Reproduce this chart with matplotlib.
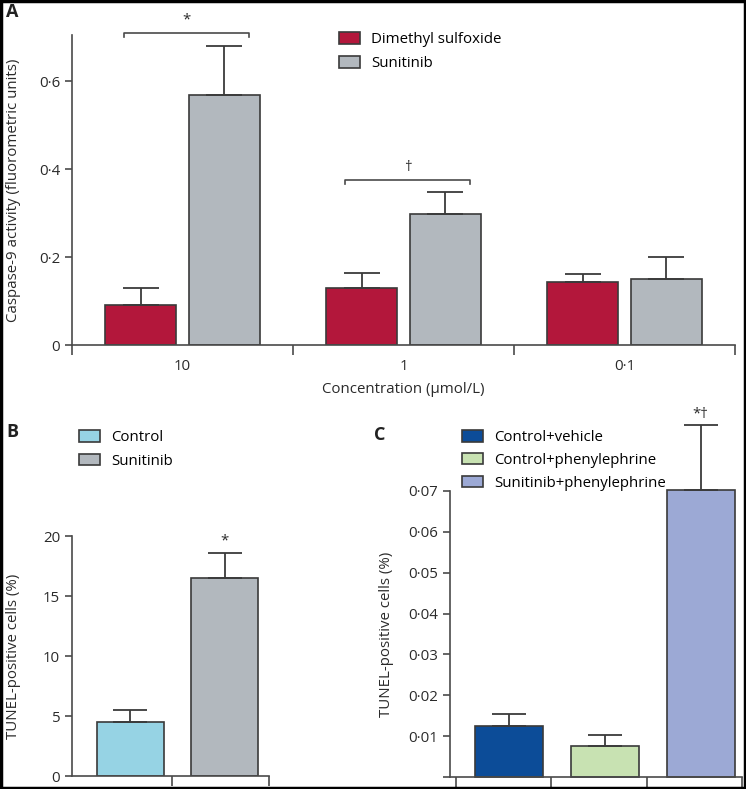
import numpy as np
import matplotlib
matplotlib.use("Agg")
import matplotlib.pyplot as plt
from matplotlib.patches import Patch, Rectangle

plt.rcParams["font.family"] = ["Open Sans", "DejaVu Sans"]
plt.rcParams["font.size"] = 10

# Panel A data
conc_labels = ["10", "1", "0·1"]
dmso_vals = [0.092, 0.130, 0.144]
dmso_err = [0.038, 0.034, 0.017]
sun_vals = [0.568, 0.297, 0.149]
sun_err = [0.113, 0.051, 0.051]

# Panel B data
b_labels = ["Control", "Sunitinib"]
b_vals = [4.53, 16.47]
b_err = [1.0, 2.1]

# Panel C data
c_labels = ["Control+vehicle", "Control+phenylephrine", "Sunitinib+phenylephrine"]
c_vals = [0.0124, 0.0077, 0.0702]
c_err = [0.0029, 0.0025, 0.0159]

red = "#b3173b"
grey = "#b2b8be"
light_blue = "#96d3e4"
blue = "#0c4c98"
green = "#c8e2b2"
purple = "#9ca9d5"
edge = "#3a3a3a"
spine_c = "#4a4a4a"
txt_c = "#2a2a2a"
fs = 10.8

W, H = 746, 789
fig = plt.figure(figsize=(W / 100, H / 100), dpi=100)


def px_axes(left, top, right, bottom):
    return fig.add_axes([left / W, 1 - bottom / H, (right - left) / W, (bottom - top) / H])


def style(ax):
    for s in ["top", "right"]:
        ax.spines[s].set_visible(False)
    for s in ["left", "bottom"]:
        ax.spines[s].set_color(spine_c)
        ax.spines[s].set_linewidth(1.2)
    ax.tick_params(axis="y", direction="out", length=5, width=1.2, color=spine_c, labelsize=fs, labelcolor=txt_c)
    ax.tick_params(axis="x", which="major", length=0, pad=10, labelsize=fs, labelcolor=txt_c)
    ax.tick_params(axis="x", which="minor", direction="out", length=7, width=1.2, color=spine_c)


def unclip(container):
    for p in container.patches:
        p.set_clip_on(False)
    if container.errorbar is not None:
        for a in container.errorbar.get_children():
            a.set_clip_on(False)


def legend(ax, handles, x, y, spacing):
    ax.legend(handles=handles, loc="upper left", bbox_to_anchor=(x / W, 1 - y / H),
              bbox_transform=fig.transFigure, frameon=False, fontsize=fs,
              handlelength=1.4, handleheight=0.8, handletextpad=0.75,
              labelspacing=spacing, borderaxespad=0, borderpad=0)


ekw = dict(ecolor=edge, elinewidth=1.3, capthick=1.3)

# ---- Panel A ----
axA = px_axes(72, 35, 735, 345)
x = np.arange(len(conc_labels))
off, bw = 0.19, 0.317
b1 = axA.bar(x - off, dmso_vals, bw, color=red, edgecolor=edge, linewidth=1.2,
             yerr=[np.zeros(3), dmso_err], capsize=13, error_kw=ekw, label="Dimethyl sulfoxide", zorder=2)
b2 = axA.bar(x + off, sun_vals, bw, color=grey, edgecolor=edge, linewidth=1.2,
             yerr=[np.zeros(3), sun_err], capsize=13, error_kw=ekw, label="Sunitinib", zorder=2)
axA.set_xlim(-0.5, 2.5)
axA.set_ylim(0, 0.705)
axA.set_yticks([0, 0.2, 0.4, 0.6])
axA.set_yticklabels(["0", "0·2", "0·4", "0·6"])
axA.set_xticks(x)
axA.set_xticklabels(conc_labels)
axA.set_xticks([-0.5, 0.5, 1.5, 2.5], minor=True)
style(axA)
axA.set_ylabel("Caspase-9 activity (fluorometric units)", fontsize=fs, color=txt_c, labelpad=13)
axA.set_xlabel("Concentration (µmol/L)", fontsize=fs, color=txt_c, labelpad=6)

# significance brackets
for g, ytop, sym in [(0, 0.709, "*"), (1, 0.375, "†")]:
    x0, x1 = g - 0.265, g + 0.3
    axA.plot([x0, x0, x1, x1], [ytop - 0.008, ytop, ytop, ytop - 0.008], color=spine_c, lw=1.2, clip_on=False)
    axA.text((x0 + x1) / 2, ytop + 0.012, sym, ha="center", va="bottom", fontsize=fs, color=txt_c)

legend(axA, [Patch(facecolor=c, edgecolor=edge, linewidth=1.2, label=l)
             for c, l in zip([red, grey], ["Dimethyl sulfoxide", "Sunitinib"])], 339, 32, 0.6)

# ---- Panel B ----
axB = px_axes(72, 536, 269, 776)
xb = np.arange(2)
bb = axB.bar(xb, b_vals, 0.71, color=[light_blue, grey], edgecolor=edge, linewidth=1.2,
             yerr=[np.zeros(2), b_err], capsize=12, error_kw=ekw, zorder=2)
axB.set_xlim(-0.62, 1.47)
axB.set_ylim(0, 20)
axB.set_yticks([0, 5, 10, 15, 20])
axB.set_xticks([])
axB.set_xticks([0.44, 1.47], minor=True)
style(axB)
axB.set_ylabel("TUNEL-positive cells (%)", fontsize=fs, color=txt_c, labelpad=16)
axB.text(1, b_vals[1] + b_err[1] + 0.4, "*", ha="center", va="bottom", fontsize=fs, color=txt_c)
legend(axB, [Patch(facecolor=c, edgecolor=edge, linewidth=1.2, label=l)
             for c, l in zip([light_blue, grey], b_labels)], 79, 430, 0.58)

# ---- Panel C ----
axC = px_axes(450, 491, 742, 777)
xc = np.arange(3)
bc = axC.bar(xc, c_vals, 0.71, color=[blue, green, purple], edgecolor=edge, linewidth=1.2,
             yerr=[np.zeros(3), c_err], capsize=12, error_kw=ekw, zorder=2)
unclip(bc)
axC.set_xlim(-0.615, 2.43)
axC.set_ylim(0, 0.07)
axC.set_yticks([0, 0.01, 0.02, 0.03, 0.04, 0.05, 0.06, 0.07])
axC.set_yticklabels(["", "0·01", "0·02", "0·03", "0·04", "0·05", "0·06", "0·07"])
axC.set_xticks([])
axC.set_xticks([-0.55, 0.44, 1.44, 2.43], minor=True)
style(axC)
axC.set_ylabel("TUNEL-positive cells (%)", fontsize=fs, color=txt_c, labelpad=10)
axC.text(2, c_vals[2] + c_err[2] + 0.0008, "*†", ha="center", va="bottom", fontsize=fs,
         color=txt_c, clip_on=False)
legend(axC, [Patch(facecolor=c, edgecolor=edge, linewidth=1.2, label=l)
             for c, l in zip([blue, green, purple], c_labels)], 462, 430, 0.52)

# panel letters
for lbl, px, py in [("A", 6, 12), ("B", 6, 432), ("C", 374, 435)]:
    fig.text(px / W, 1 - py / H, lbl, fontsize=13, fontweight="bold", va="center", ha="left", color="#222222")

# outer frame
fig.add_artist(Rectangle((0.0015, 0.0015), 0.997, 0.997, transform=fig.transFigure,
                         fill=False, edgecolor="black", linewidth=2.5))

fig.savefig("out.png", dpi=100)
